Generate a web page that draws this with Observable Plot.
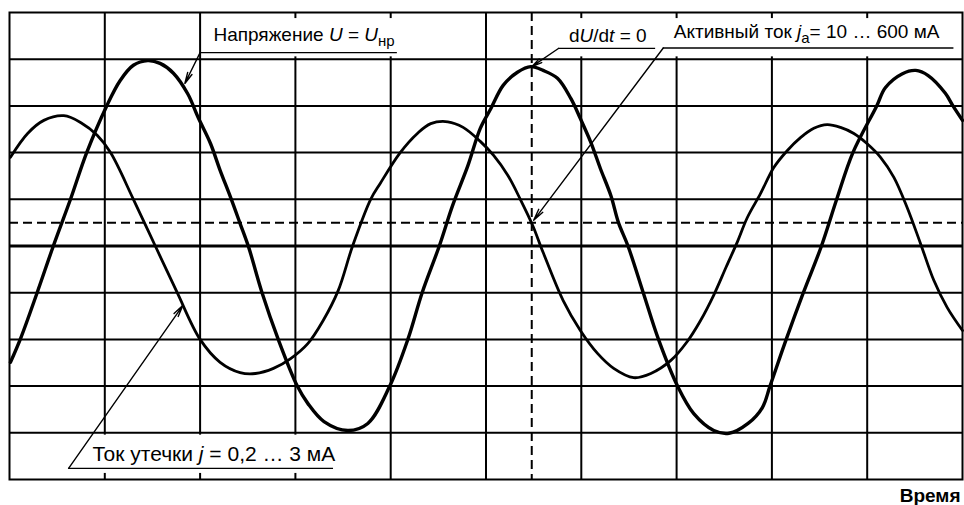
<!DOCTYPE html>
<html>
<head>
<meta charset="utf-8">
<script src="https://cdn.jsdelivr.net/npm/d3@7"></script>
<script src="https://cdn.jsdelivr.net/npm/@observablehq/plot@0.6"></script>
<style>
  html, body { margin: 0; padding: 0; background: #fff; }
  svg { display: block; }
  svg text { white-space: pre; }
</style>
</head>
<body>
<div id="chart"></div>
<script>
// ---- Data (screen divisions: time 0..10, amplitude -5..5) ----
const gridTime = [1, 2, 3, 4, 5, 6, 7, 8, 9];
const gridAmp = [-4, -3, -2, -1, 1, 2, 3, 4];
const zeroLine = [0];
const dashedAmp = [0.5];          // dashed level
const dashedTime = [5.48];        // dU/dt = 0 instant

// Voltage U = U_нр (large trace)
const voltageTime = [0.01,0.12,0.29,0.46,0.64,0.81,1.02,1.16,1.30,1.45,1.58,1.72,1.87,1.98,2.11,2.21,2.32,2.42,2.51,2.65,2.82,3.02,3.13,3.30,3.55,3.76,3.99,4.18,4.33,4.51,4.65,4.81,4.94,5.05,5.18,5.33,5.47,5.60,5.75,5.89,5.99,6.10,6.20,6.31,6.39,6.49,6.65,6.81,7.01,7.18,7.39,7.55,7.75,7.90,7.98,8.15,8.33,8.52,8.68,8.85,9.10,9.19,9.37,9.51,9.64,9.82,9.90,10.0];
const voltageValue = [-2.49,-1.96,-1.0,0,1,2,3,3.54,3.87,3.97,3.91,3.70,3.26,2.75,2.19,1.62,1.04,0.48,-0.03,-1,-2,-3,-3.37,-3.76,-3.95,-3.80,-3,-2,-1,0,0.87,1.72,2.52,2.94,3.44,3.72,3.84,3.76,3.59,3.16,2.73,2.22,1.66,1.08,0.5,0,-1,-2,-3,-3.59,-3.95,-4.01,-3.80,-3.46,-3,-2,-1,0,1,2,3,3.39,3.69,3.76,3.65,3.27,3,2.69];

// Leakage current j (smaller trace)
const currentTime = [0.01,0.19,0.36,0.57,0.75,0.92,1.06,1.30,1.53,1.76,2.00,2.21,2.42,2.58,2.77,2.95,3.13,3.29,3.45,3.60,3.79,3.89,4.10,4.28,4.42,4.60,4.76,4.94,5.08,5.23,5.36,5.49,5.60,5.81,5.99,6.17,6.34,6.55,6.73,6.94,7.11,7.25,7.39,7.52,7.64,7.74,7.88,8.02,8.16,8.30,8.44,8.58,8.72,8.86,9.00,9.14,9.28,9.42,9.56,9.70,9.84,10.0];
const currentValue = [1.90,2.41,2.69,2.79,2.64,2.37,2,1,0,-1,-2,-2.49,-2.71,-2.73,-2.62,-2.41,-2.09,-1.6,-0.95,0,1,1.34,2.0,2.41,2.62,2.66,2.54,2.24,1.94,1.51,1.0,0.44,-0.14,-1.17,-1.81,-2.30,-2.62,-2.82,-2.73,-2.45,-2.05,-1.6,-1.05,-0.45,0.1,0.6,1.12,1.68,2.04,2.32,2.52,2.60,2.54,2.41,2.19,1.9,1.47,0.82,0.05,-0.74,-1.32,-1.81];

// Annotation texts (parts: n = normal, i = italic, sub = subscript)
const labelParts = [
  [["Напряжение ", "n"], ["U", "i"], [" = ", "n"], ["U", "i"], ["нр", "sub"]],
  [["d", "n"], ["U", "i"], ["/d", "n"], ["t", "i"], [" = 0", "n"]],
  [["Активный ток ", "n"], ["j", "i"], ["a", "sub"], ["= 10 … 600 мА", "n"]],
  [["Ток утечки ", "n"], ["j", "i"], [" = 0,2 … 3 мА", "n"]]
];
const labelTime = [2.14, 5.87, 6.97, 0.87];
const labelAmp = [4.53, 4.50, 4.58, -4.45];
const labelFontSize = [19, 19, 19, 21];

// Leader lines: underline (from/to, level) and arrow tip
const underlineFrom = [2.00, 5.76, 6.86, 0.62];
const underlineTo = [4.07, 6.78, 9.91, 3.40];
const underlineAmp = [4.14, 4.23, 4.24, -4.76];
const tipTime = [1.84, 5.48, 5.50, 1.82];
const tipAmp = [3.48, 3.84, 0.55, -1.27];

// White label backgrounds hiding the grid
const maskFrom = [2.03, 5.55, 0.03];
const maskTo = [4.97, 9.98, 3.97];
const maskLow = [4.05, 4.05, -4.87];
const maskHigh = [4.87, 4.87, -4.05];

const xAxisTitle = "Время";

// ---- Build tables ----
const voltage = voltageTime.map((t, i) => ({t, v: voltageValue[i]}));
const current = currentTime.map((t, i) => ({t, v: currentValue[i]}));
const plain = parts => parts.map(p => p[0]).join("");
const labels = labelParts.map((parts, i) => ({parts, text: plain(parts), x: labelTime[i], y: labelAmp[i], size: labelFontSize[i]}));
const leaders = underlineFrom.map((x1, i) => ({x1, x2: underlineTo[i], y: underlineAmp[i], tx: tipTime[i], ty: tipAmp[i]}));
const masks = maskFrom.map((x1, i) => ({x1, x2: maskTo[i], y1: maskLow[i], y2: maskHigh[i]}));

const font = "Arial, 'Liberation Sans', Helvetica, sans-serif";

const svg = Plot.plot({
  width: 964,
  height: 505,
  marginLeft: 9,
  marginRight: 2,
  marginTop: 12,
  marginBottom: 26,
  style: {background: "white", color: "black"},
  x: {domain: [0, 10], axis: null},
  y: {domain: [-5, 5], axis: null},
  marks: [
    Plot.ruleX(gridTime, {stroke: "black", strokeWidth: 2}),
    Plot.ruleY(gridAmp, {stroke: "black", strokeWidth: 2}),
    Plot.ruleY(zeroLine, {stroke: "black", strokeWidth: 2.8}),
    Plot.rect(masks, {x1: "x1", x2: "x2", y1: "y1", y2: "y2", fill: "white"}),
    Plot.ruleY(dashedAmp, {stroke: "black", strokeWidth: 2, strokeDasharray: "9,5"}),
    Plot.ruleX(dashedTime, {stroke: "black", strokeWidth: 2, strokeDasharray: "9,5"}),
    Plot.line(current, {x: "t", y: "v", curve: "catmull-rom", stroke: "black", strokeWidth: 2.8}),
    Plot.line(voltage, {x: "t", y: "v", curve: "catmull-rom", stroke: "black", strokeWidth: 3.4}),
    Plot.ruleY(leaders, {y: "y", x1: "x1", x2: "x2", stroke: "black", strokeWidth: 1.3}),
    Plot.arrow(leaders, {x1: "x1", y1: "y", x2: "tx", y2: "ty", stroke: "black", strokeWidth: 1.4, headLength: 13, headAngle: 24}),
    ...labels.map(l => Plot.text([l], {x: "x", y: "y", text: "text", textAnchor: "start", lineAnchor: "middle", fontSize: l.size, fontFamily: font, fill: "black"})),
    Plot.text([xAxisTitle], {frameAnchor: "bottom-right", text: d => d, textAnchor: "end", lineAnchor: "middle", dx: -2, dy: 16, fontSize: 19, fontWeight: "bold", fontFamily: font, fill: "black"}),
    Plot.frame({stroke: "black", strokeWidth: 2})
  ]
});

// Rich text: italics and subscripts as real tspans
d3.select(svg).selectAll("text").each(function () {
  const lab = labels.find(l => l.text === this.textContent);
  if (!lab) return;
  const el = d3.select(this);
  el.text(null);
  let shifted = false;
  for (const [t, st] of lab.parts) {
    const ts = el.append("tspan").text(t);
    if (st === "i") ts.attr("font-style", "italic");
    if (st === "sub") {
      ts.attr("font-size", Math.round(lab.size * 0.78)).attr("dy", 5);
      shifted = true;
    } else if (shifted) {
      ts.attr("dy", -5);
      shifted = false;
    }
  }
});

document.getElementById("chart").appendChild(svg);
</script>
</body>
</html>
